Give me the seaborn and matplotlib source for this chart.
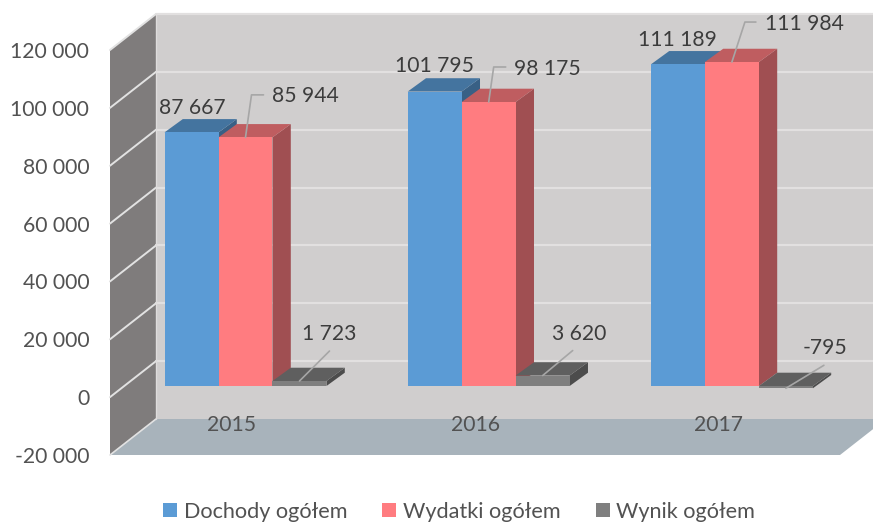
import matplotlib
matplotlib.use("Agg")
import matplotlib.pyplot as plt
import pandas as pd
import seaborn as sns
from matplotlib.patches import Polygon

years = ["2015", "2016", "2017"]
dochody = [87667, 101795, 111189]
wydatki = [85944, 98175, 111984]
wynik = [1723, 3620, -795]
series_names = ["Dochody ogółem", "Wydatki ogółem", "Wynik ogółem"]
value_ticks = [-20000, 0, 20000, 40000, 60000, 80000, 100000, 120000]

W, H = 873, 522
front_col = ["#5B9BD5", "#FF7C80", "#7F7F7F"]
top_col = ["#44749F", "#BF5D60", "#5F5F5F"]
side_col = ["#386085", "#A04F52", "#4C4C4C"]
FONT = "Lato"
LABEL_SIZE = 15.2
TEXT_GREY = "#525252"


def fmt(v):
    return f"{v:,}".replace(",", " ")


def ax_rect(left, top, right, bottom):
    # pixel box, measured from the top left, to figure fractions
    return [left / W, 1 - bottom / H, (right - left) / W, (bottom - top) / H]


sns.set_theme(style="white")
plt.rcParams["font.family"] = [FONT, "DejaVu Sans"]

df = pd.DataFrame({
    "year": years * 3,
    "value": dochody + wydatki + wynik,
    "series": [s for s in series_names for _ in years],
})

fig = plt.figure(figsize=(W / 100, H / 100), dpi=100)

# the box behind the bars, in plain pixels
bg = fig.add_axes([0, 0, 1, 1], zorder=0)
bg.set_xlim(0, W)
bg.set_ylim(H, 0)
bg.axis("off")

fx, bx = 110, 156
right_fx, right_bx = 840, 886
front_top, front_bot = 50, 455
back_top, back_bot = 14, 419
step = (back_bot - back_top) / 7

bg.add_patch(Polygon([(bx, back_top), (W, back_top), (W, back_bot), (bx, back_bot)],
                     fc="#D0CECE", ec="none"))
bg.add_patch(Polygon([(fx, front_top), (bx, back_top), (bx, back_bot), (fx, front_bot)],
                     fc="#7F7C7C", ec="none"))
bg.add_patch(Polygon([(fx, front_bot), (bx, back_bot), (right_bx, back_bot), (right_fx, front_bot)],
                     fc="#A8B3BB", ec="none"))
for k in range(7):
    yb = back_top + k * step
    yf = front_top + k * step
    bg.plot([bx, W], [yb, yb], color="#E2E0E0", lw=1.6)
    bg.plot([fx, bx], [yf, yb], color="#E2E2E2", lw=1.4)
bg.plot([fx, bx], [front_bot, back_bot], color="#E2E2E2", lw=1.2)
bg.plot([bx, bx], [back_top, back_bot], color="#DEDCDC", lw=1)

# value axis and year labels sit on the front edge of the box
ax_val = fig.add_axes(ax_rect(fx, front_top, right_fx, front_bot), zorder=1)
ax_val.patch.set_visible(False)
ax_val.set_xlim(-0.5, 2.5)
ax_val.set_ylim(-20000, 120000)
ax_val.set_yticks(value_ticks, [fmt(v) for v in value_ticks])
ax_val.set_xticks(range(len(years)), years)
ax_val.tick_params(axis="y", length=0, pad=15, labelsize=LABEL_SIZE, labelcolor=TEXT_GREY)
ax_val.tick_params(axis="x", length=0, pad=-28.5, labelsize=LABEL_SIZE, labelcolor=TEXT_GREY)
sns.despine(ax=ax_val, left=True, bottom=True)

# bars stand a bit inside the box: zero is at y=386
scale = 405 / 140000
bar_top = 386 - 120000 * scale
bar_bot = 386 + 20000 * scale
ax = fig.add_axes(ax_rect(123.9, bar_top, 853.5, bar_bot), zorder=2)
ax.patch.set_visible(False)
sns.barplot(data=df, x="year", y="value", hue="series", hue_order=series_names,
            palette=front_col, saturation=1, width=0.666, gap=0, linewidth=0, ax=ax)
ax.set_xlim(-0.5, 2.5)
ax.set_ylim(-20000, 120000)
ax.axis("off")

depth_x = 18.3 / (729.6 / 3)
depth_y = 13.3 / scale

for i, container in enumerate(ax.containers):
    for bar in container:
        x0, x1 = bar.get_x(), bar.get_x() + bar.get_width()
        y0, y1 = bar.get_y(), bar.get_y() + bar.get_height()
        low, high = min(y0, y1), max(y0, y1)
        bar.set_zorder(3 + 2 * i)
        ax.add_patch(Polygon([(x1, low), (x1 + depth_x, low + depth_y),
                              (x1 + depth_x, high + depth_y), (x1, high)],
                             fc=side_col[i], ec="none", zorder=2 + 2 * i, clip_on=False))
        ax.add_patch(Polygon([(x0, high), (x1, high), (x1 + depth_x, high + depth_y),
                              (x0 + depth_x, high + depth_y)],
                             fc=top_col[i], ec="none", zorder=2 + 2 * i, clip_on=False))

sns.move_legend(ax, "lower center", bbox_to_anchor=(459 / W, 0.5 / H), bbox_transform=fig.transFigure,
                ncol=3, frameon=False, title=None, fontsize=15.6, labelcolor=TEXT_GREY,
                borderaxespad=0, borderpad=0, handlelength=0.65, handleheight=0.65,
                handletextpad=0.3, columnspacing=1.62)

# data labels and their leader lines, in pixels on top of everything
top = fig.add_axes([0, 0, 1, 1], zorder=3)
top.set_xlim(0, W)
top.set_ylim(H, 0)
top.axis("off")

# per bar: leader points and label position, relative to the middle of the bar's top edge
leaders = [
    [[], [], []],
    [[(6, -42.5), (18, -42.5)], [(5, -35), (17, -35)], [(13, -40), (24, -40)]],
    [[(30, -30)], [(30, -25)], [(38, -23)]],
]
text_pos = [
    [(0.7, -24.5), (0, -25.5), (0, -24)],
    [(26, -41.5), (25.5, -33), (33, -38)],
    [(30, -47), (36.5, -41.5), (39, -40)],
]
aligns = ["center", "left", "center"]

for i, container in enumerate(ax.containers):
    for j, bar in enumerate(container):
        xc = bar.get_x() + bar.get_width() / 2
        yv = bar.get_y() + bar.get_height()
        px, py = ax.transData.transform((xc, yv))
        py = H - py
        if leaders[i][j]:
            pts = [(px, py)] + [(px + a, py + b) for a, b in leaders[i][j]]
            top.plot([p[0] for p in pts], [p[1] for p in pts], color="#A6A6A6", lw=1.2)
        dx, dy = text_pos[i][j]
        values = [dochody, wydatki, wynik][i]
        top.text(px + dx, py + dy, fmt(values[j]), ha=aligns[i], va="center",
                 fontsize=LABEL_SIZE, color="#3C3C3C")

fig.savefig("out.png", dpi=100)
